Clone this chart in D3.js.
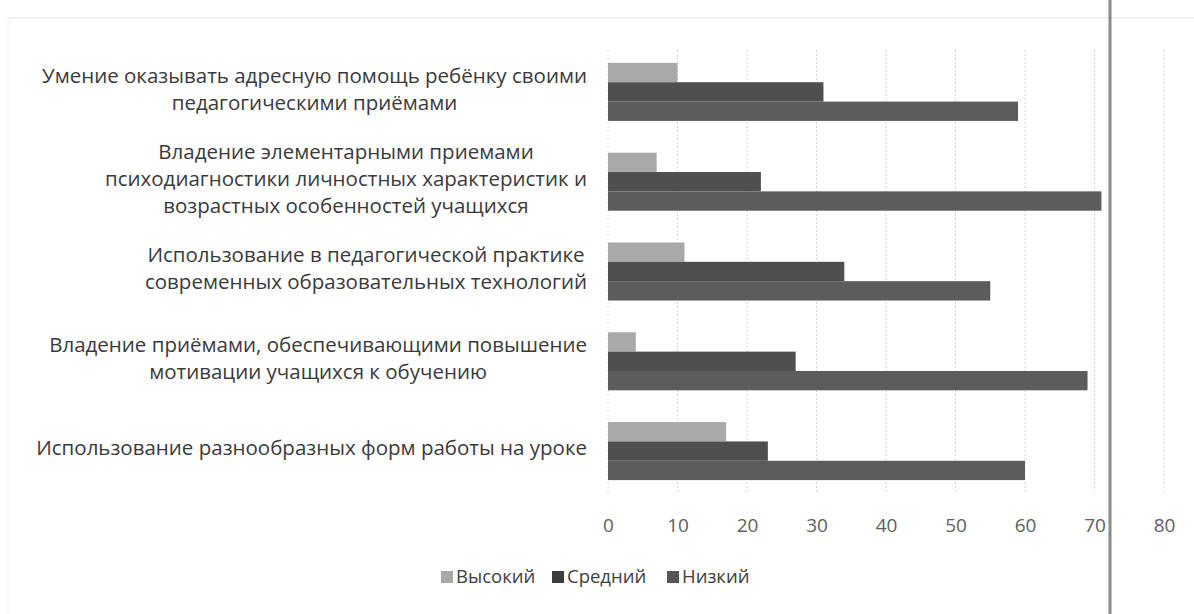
<!DOCTYPE html>
<html><head><meta charset="utf-8">
<script src="https://cdn.jsdelivr.net/npm/d3@7/dist/d3.min.js"></script>
<style>
html,body{margin:0;padding:0;background:#fff;}
svg{display:block;}
text{font-family:"Open Sans",Lato,sans-serif;}
</style></head>
<body>
<svg id="c" width="1194" height="614"></svg>
<script>
const categories = [
  ["Умение оказывать адресную помощь ребёнку своими","педагогическими приёмами"],
  ["Владение элементарными приемами","психодиагностики личностных характеристик и","возрастных особенностей учащихся"],
  ["Использование в педагогической практике","современных образовательных технологий"],
  ["Владение приёмами, обеспечивающими повышение","мотивации учащихся к обучению"],
  ["Использование разнообразных форм работы на уроке"]
];
const seriesNames = ["Высокий","Средний","Низкий"];
const high = [10, 7, 11, 4, 17];
const mid  = [31, 22, 34, 27, 23];
const low  = [59, 71, 55, 69, 60];
const tickValues = [0,10,20,30,40,50,60,70,80];

const colors = {"Высокий":"#a9a9a9","Средний":"#4f4f4f","Низкий":"#5c5c5c"};
const legendColors = {"Высокий":"#a9a9a9","Средний":"#3c3c3c","Низкий":"#555555"};

const svg = d3.select("#c");
const catIdx = categories.map((c,i)=>i);
const values = {"Высокий":high,"Средний":mid,"Низкий":low};

const x = d3.scaleLinear().domain([0,80]).range([608,1164]);
const y = d3.scaleBand().domain(catIdx).range([47,496]).paddingInner(0.354).paddingOuter(0.177);
const ys = d3.scaleBand().domain(seriesNames).range([0,y.bandwidth()]).padding(0);

// faint page border
svg.append("line").attr("x1",8).attr("x2",1194).attr("y1",18).attr("y2",18).attr("stroke","#e2e2e2").attr("stroke-width",1);
svg.append("line").attr("x1",8).attr("x2",8).attr("y1",18).attr("y2",614).attr("stroke","#ececec").attr("stroke-width",1);

// gridlines
svg.append("g").selectAll("line").data(tickValues).join("line")
  .attr("x1",d=>x(d)).attr("x2",d=>x(d)).attr("y1",50).attr("y2",494)
  .attr("stroke","#d4d4d4").attr("stroke-width",1).attr("stroke-dasharray","2,2");

// bars
const g = svg.append("g");
catIdx.forEach(i=>{
  seriesNames.forEach(s=>{
    g.append("rect")
      .attr("x",x(0)).attr("y",y(i)+ys(s))
      .attr("width",x(values[s][i])-x(0)).attr("height",ys.bandwidth())
      .attr("fill",colors[s]);
  });
});

// x axis tick labels
const xAxis = d3.axisBottom(x).tickValues(tickValues).tickSize(0).tickPadding(0);
const ax = svg.append("g").attr("transform","translate(0,515)").call(xAxis);
ax.select(".domain").remove();
ax.selectAll("text").attr("fill","#606060").attr("font-size","19px").attr("dy","0.9em")
  .style("font-family","'Open Sans',Lato,sans-serif");

// category labels
const lineH = 27;
catIdx.forEach(i=>{
  const lines = categories[i];
  const cy = y(i)+y.bandwidth()/2 - 3;
  const t = svg.append("text").attr("font-size","20.5px").attr("fill","#3a3a3a").attr("text-anchor","middle");
  const n = lines.length;
  lines.forEach((ln,k)=>{
    t.append("tspan").attr("y", cy + (k-(n-1)/2)*lineH).attr("dy","0.35em").text(ln);
  });
  let maxW = 0;
  t.selectAll("tspan").each(function(){ maxW = Math.max(maxW, this.getComputedTextLength()); });
  t.selectAll("tspan").attr("x", 587 - maxW/2);
});

// legend
const legendX = [441,552,667];
seriesNames.forEach((s,k)=>{
  svg.append("rect").attr("x",legendX[k]).attr("y",571).attr("width",12).attr("height",12).attr("fill",legendColors[s]);
  svg.append("text").attr("x",legendX[k]+15).attr("y",577).attr("dy","0.35em")
    .attr("font-size","18.5px").attr("fill","#404040").text(s);
});

// scanned page edge line
svg.append("line").attr("x1",1110).attr("x2",1110).attr("y1",0).attr("y2",614).attr("stroke","#8a8a8a").attr("stroke-width",3);
</script>
</body></html>
